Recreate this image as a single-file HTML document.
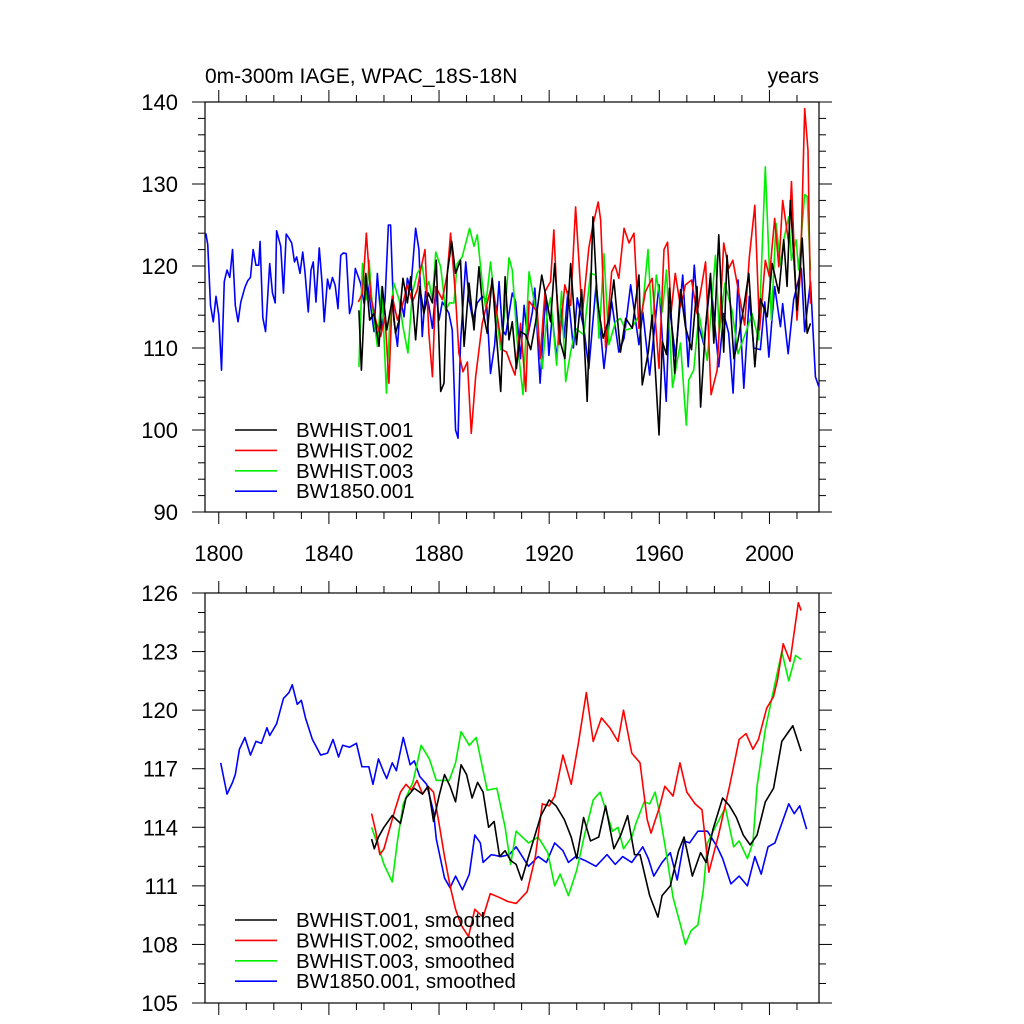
<!DOCTYPE html>
<html><head><meta charset="utf-8"><style>
html,body{margin:0;padding:0;background:#fff;}
svg{display:block;font-family:"Liberation Sans",Arial,sans-serif;}
</style></head><body>
<svg id="chart" width="1024" height="1024" viewBox="0 0 1024 1024"></svg>
<script>
// ---------- data ----------
const xTickYears = [1800,1840,1880,1920,1960,2000];
const topYTicks = [90,100,110,120,130,140];
const botYTicks = [105,108,111,114,117,120,123,126];
const titleLeft = "0m-300m IAGE, WPAC_18S-18N";
const titleRight = "years";
const topLegend = ["BWHIST.001","BWHIST.002","BWHIST.003","BW1850.001"];
const botLegend = ["BWHIST.001, smoothed","BWHIST.002, smoothed","BWHIST.003, smoothed","BW1850.001, smoothed"];
const colors = ["#000000","#ff0000","#00ee00","#0000ff"];

// raw series (top panel)
const blueYears = [1795.3,1796,1797,1798,1799,1800,1801,1802,1803,1804,1805,1806,1807,1808,1809.5,1810.5,1811.5,1812.5,1813.5,1814.5,1815,1816,1817,1818.5,1819.5,1820.5,1821,1822.5,1823.5,1824.5,1825.3,1826.5,1827.5,1828.3,1829.5,1830.5,1831.3,1832.5,1833.5,1834.3,1835.3,1836.5,1837.5,1838.3,1839.5,1840.3,1841.3,1842.3,1843.3,1844.3,1845.3,1846.3,1847.5,1848.5,1849.6,1851.5,1852.8,1854,1855.2,1856.4,1857.6,1859.2,1860.4,1861.6,1862.4,1863.6,1864.9,1866.1,1867.3,1868.5,1869.7,1871.5,1872.7,1873.9,1875.1,1876.3,1877.6,1878.8,1880,1881.2,1882.4,1883.6,1884.8,1886,1886.9,1887.8,1889.7,1890.9,1892.3,1893.9,1895.7,1897.2,1898.7,1900.2,1901.8,1903,1904.2,1906.6,1907.8,1909.6,1910.9,1912.1,1913.9,1914.8,1916.7,1918.7,1919.9,1921.1,1922.7,1924.2,1925.4,1926.8,1928.8,1930.2,1932.6,1934.4,1937.1,1939.9,1942.7,1945.3,1947.2,1949.6,1952.6,1954,1956.5,1959.9,1962.5,1963.7,1965.9,1968.5,1970.5,1972.7,1974.4,1976.2,1978.6,1981.6,1983.4,1985.2,1986.8,1988.6,1990.7,1992.7,1994.3,1996.7,1998.3,1999.8,2001.9,2004,2004.8,2006.8,2008.8,2011.6,2012.8,2014.9,2016.7,2017.9];
const blueVals = [124.0,122.6,115.2,113.2,116.3,114.0,107.3,118.1,119.5,118.6,122.0,115.2,113.2,115.6,117.4,118.2,118.6,122.0,120.1,120.1,123.0,113.7,112.0,120.3,116.7,115.5,124.3,122.4,116.7,123.9,123.5,122.8,120.5,121.1,119.1,121.7,119.3,114.4,119.5,120.5,115.6,122.2,118.0,113.2,118.4,117.2,118.6,117.6,114.8,121.3,121.6,121.5,114.2,115.4,119.7,117.9,115.4,117.9,115.0,112.0,119.1,112.2,115.9,125.0,125.0,113.4,110.2,115.9,113.8,118.5,117.1,124.6,122.0,111.4,116.9,115.2,112.4,117.1,113.4,115.6,115.0,114.2,112.2,100.0,99.0,110.6,120.5,115.9,113.4,115.5,116.3,115.9,106.9,110.4,118.1,112.2,111.6,116.7,115.7,108.7,115.2,111.2,114.4,117.3,105.7,116.5,109.1,114.0,108.7,114.8,111.2,116.9,110.0,116.1,112.4,107.5,117.9,107.5,115.7,109.5,111.2,117.7,110.4,114.4,106.7,117.7,103.5,115.0,108.9,118.9,107.7,120.1,112.6,110.4,118.3,107.7,114.2,111.8,104.5,118.3,105.1,116.3,110.0,109.8,115.6,108.9,117.5,112.6,115.4,109.3,115.9,119.7,112.0,118.1,106.5,105.3];

const redYears = [1850.7,1852.2,1853.6,1855.2,1857,1858.8,1860.4,1861.8,1863,1864.9,1866.7,1868.5,1870.3,1872.1,1873.3,1874.9,1876.3,1877.6,1878.8,1881.2,1883,1884.2,1886,1887.2,1888.7,1890.3,1891.7,1893.3,1895.7,1897.5,1899.3,1901.2,1903,1904.5,1906,1907.6,1909.6,1911.5,1912.7,1915.7,1916.7,1918.5,1920.5,1921.7,1923.6,1925.7,1927.8,1929.6,1932,1934.4,1935.9,1937.8,1938.7,1940.5,1942.7,1943.9,1945.3,1947.2,1949,1950.8,1952.6,1955,1957.4,1959.9,1961.7,1963,1964.3,1965.8,1967.7,1969.5,1971.7,1973.7,1976.8,1978.8,1981,1983.4,1985.2,1986.7,1988.9,1991,1992.7,1994.7,1996.4,1998.5,2000,2001.9,2003.4,2004.8,2007,2008,2010,2011.3,2012.8,2014,2014.9];
const redVals = [115.6,116.7,124.0,116.3,113.4,111.4,113.8,105.7,116.3,113.4,115.2,117.7,115.6,117.1,119.5,122.0,111.8,106.5,117.5,115.9,119.1,124.0,116.3,109.4,107.1,108.3,99.6,106.5,113.0,115.5,117.9,113.8,109.8,109.5,108.1,106.7,113.0,104.7,115.7,114.4,108.7,116.9,118.1,124.4,110.4,117.7,115.2,127.2,114.0,122.2,125.0,127.8,125.6,110.0,119.3,120.1,118.5,124.6,122.8,124.0,112.4,116.9,118.5,107.5,122.0,122.9,114.4,119.1,115.0,117.7,118.3,114.2,120.5,104.3,107.3,122.8,119.7,120.7,116.7,112.8,121.1,127.4,112.2,120.7,118.7,125.8,119.9,128.0,122.8,130.3,113.4,119.5,139.2,134.1,115.4];

const blackYears = [1850.9,1851.8,1853.4,1854.8,1856.4,1858.2,1859.4,1861,1863,1864.2,1865.5,1866.9,1868.5,1869.7,1871.5,1873,1874.5,1876.1,1877.6,1879,1880.6,1881.8,1883,1884.6,1886,1887.8,1889.1,1890.9,1892.7,1894.5,1896.1,1897.5,1899.3,1900.8,1902.4,1904,1905.4,1906.6,1908.1,1909.6,1911.5,1913.3,1915.1,1917.3,1918.7,1920.5,1922,1924,1925.7,1927.8,1929.9,1931.8,1933.8,1935.9,1937.5,1939.6,1941.7,1943.5,1945.9,1947.8,1950.2,1952.6,1953.8,1956,1957.4,1959.9,1961.1,1962.6,1963.7,1965.6,1967.7,1969.5,1971.7,1973.7,1975,1976.8,1978.6,1979.8,1981.6,1983.4,1984.6,1987.1,1988.6,1990.7,1992.5,1994.7,1996.7,1999.2,2001,2003.4,2005.2,2006.4,2007.6,2010,2011.9,2013.7,2014.9];
const blackVals = [114.6,107.3,119.1,113.4,114.2,110.2,117.5,112.2,115.9,111.8,113.4,118.5,115.5,118.7,111.0,117.5,114.2,116.7,115.5,120.7,104.7,105.7,119.1,123.0,119.1,120.7,110.2,117.9,112.2,119.9,114.2,111.8,118.5,111.8,104.7,118.7,111.0,113.2,107.5,112.0,111.6,109.8,113.2,118.9,116.5,113.2,120.3,110.8,108.7,120.3,110.4,117.1,103.5,126.0,115.7,111.2,113.6,118.3,109.5,113.6,112.4,118.9,105.5,109.5,114.0,99.4,110.8,109.2,117.3,106.9,117.1,112.6,109.8,117.5,102.8,112.6,119.1,110.6,123.8,109.5,121.3,108.7,111.0,115.0,119.1,107.7,116.0,113.8,120.3,116.7,123.2,117.5,128.0,114.6,123.4,111.8,113.0];

const greenYears = [1850.9,1852.2,1853.6,1854.6,1855.8,1857.6,1859.2,1860.9,1862.2,1863.6,1865.5,1866.9,1868.7,1870.3,1872.1,1873.9,1875.1,1876.3,1877.6,1878.8,1880.6,1882.4,1883.8,1885.4,1886.6,1888.4,1891.1,1892.7,1893.9,1895.7,1896.9,1898.7,1900.6,1902.4,1904.2,1905.4,1906.6,1908.4,1910.5,1912.7,1915.1,1917.5,1919.3,1920.5,1922.7,1924.5,1926,1927.8,1929.6,1932.6,1935,1936.9,1938.1,1939.9,1941.7,1944.1,1945.9,1947.8,1949.9,1952,1953.8,1955.9,1957.4,1958.9,1961.1,1962.6,1964.8,1967.7,1969.8,1970.7,1972.5,1974.4,1977.4,1980.4,1981.8,1983.8,1986.4,1988.6,1991.3,1993.7,1996.1,1998.5,2000.7,2002.4,2004,2005.2,2007,2008,2009.7,2010.6,2012.8,2013.7,2014.9];
const greenVals = [107.7,120.3,115.9,120.7,115.0,110.2,117.5,104.5,113.8,117.9,115.9,112.6,109.4,116.7,119.1,120.1,117.1,118.1,115.9,121.7,119.9,114.6,115.5,115.5,120.3,121.1,124.6,122.4,123.8,117.9,115.0,120.5,114.6,109.8,115.5,121.0,119.5,110.8,104.3,119.3,114.6,107.5,114.4,116.1,107.9,116.9,105.9,109.5,112.4,111.6,119.1,118.9,111.2,121.5,110.4,113.2,113.6,112.2,112.4,113.6,114.4,122.0,112.4,118.9,114.4,119.5,105.2,110.6,100.6,106.1,107.3,114.2,108.5,121.3,111.8,117.9,114.6,109.3,111.8,114.2,111.0,132.1,113.4,125.2,120.1,123.2,126.0,120.7,123.2,119.5,128.7,128.5,119.5];

// smoothed series (bottom panel)
const sBlueYears = [1800.7,1803,1805,1806,1807.5,1809.5,1811.5,1813.5,1815.5,1817.5,1818.5,1821,1823.5,1825.5,1826.7,1828.5,1830,1831.5,1834,1837,1839.5,1841.5,1843.5,1845,1847.5,1850,1852,1854.5,1856,1858,1860,1861,1863,1864.5,1867,1869.5,1871,1873,1875.5,1878,1879,1882,1884,1886,1888.5,1891,1893,1895,1896,1899,1902.5,1905.5,1908,1912.5,1916,1919,1922,1925,1927,1929.6,1933,1937,1941,1944,1946.7,1950,1954,1956,1958,1961,1964,1966.5,1969,1971,1974,1977.5,1981,1983,1986,1989,1992,1994.7,1997,1999.5,2002,2004,2007,2009,2011,2013.5];
const sBlueVals = [117.3,115.7,116.3,116.7,118.0,118.6,117.7,118.4,118.3,119.1,118.7,119.3,120.6,120.9,121.3,120.3,120.5,119.6,118.5,117.7,117.8,118.5,117.6,118.2,118.1,118.3,117.1,117.1,116.2,117.5,116.8,116.5,117.3,116.9,118.6,117.2,117.4,116.6,116.2,114.8,113.4,111.4,110.9,111.5,110.8,111.6,113.6,113.2,112.2,112.6,112.5,112.6,113.0,112.0,112.5,112.2,113.2,112.8,112.2,112.5,112.3,112.0,112.6,112.1,112.5,112.2,113.0,112.4,111.5,112.2,112.7,111.3,113.3,113.2,113.8,113.8,113.0,112.4,111.1,111.5,111.0,112.5,111.6,113.0,113.2,114.0,115.2,114.7,115.1,113.9];

const sRedYears = [1855.5,1857,1858.5,1860,1862,1864,1866,1868,1870,1872,1874,1876,1878,1880,1882,1884,1886,1888,1890.7,1893,1896,1898.6,1902,1905,1908,1910,1912,1915,1917.5,1920,1922,1925,1928,1930.6,1933.5,1936,1939,1942,1945,1947,1950,1953,1955.6,1957,1960,1962,1965,1967.5,1970,1973,1975.5,1978,1981.5,1985.5,1989,1991.5,1994,1996,1999,2001.5,2003,2005,2007.5,2010.5,2011.5];
const sRedVals = [114.7,113.8,112.6,112.9,113.9,114.9,115.8,116.2,115.9,116.4,115.7,116.1,115.8,114.2,112.5,111.0,109.8,109.0,108.4,109.8,109.4,110.6,110.4,110.2,110.1,110.4,110.7,112.5,115.2,115.1,115.6,117.7,116.2,118.3,120.9,118.4,119.6,119.1,118.4,120.0,117.8,117.3,114.4,113.7,115.0,116.1,115.6,117.3,115.8,115.2,114.9,111.7,113.6,116.1,118.5,118.8,118.0,118.5,120.1,120.7,121.6,123.4,122.5,125.5,125.1];

const sBlackYears = [1855.5,1856.5,1858,1860,1863,1866,1868,1871,1874,1876,1878,1880,1882,1884,1886,1888,1890,1892,1894,1896,1898,1900,1902,1904,1906,1908,1910,1914,1917,1920,1922.5,1925.5,1928,1930,1932.5,1935,1938,1940.5,1943.5,1946,1948.5,1951,1953,1956.5,1959.5,1961,1964,1967,1969,1972,1975,1977,1979.5,1983,1985.5,1988,1990.5,1993,1995.5,1998.5,2001.5,2004.5,2008.5,2011.5];
const sBlackVals = [113.4,112.9,113.5,114.0,114.6,114.2,115.5,116.0,115.7,116.1,114.3,115.6,116.7,116.1,115.3,117.2,116.7,115.5,116.3,115.8,114.0,114.3,112.5,112.8,112.3,112.1,111.3,113.2,114.6,115.4,115.1,114.4,113.5,112.4,114.5,113.3,113.5,115.1,112.9,113.6,114.6,112.6,112.6,110.5,109.4,110.5,111.0,112.8,113.5,111.5,112.7,112.2,113.9,115.5,115.1,114.5,113.6,113.1,113.6,115.3,116.0,118.4,119.2,117.9];

const sGreenYears = [1855.5,1858,1860,1863,1865,1867,1870.5,1873.5,1876.5,1879,1883.7,1886,1888,1891,1893.5,1897.5,1901,1904,1906,1908,1912.5,1916,1919.5,1922,1924,1927,1930,1933,1936,1938.5,1941,1943,1945,1947,1950,1951.5,1954.5,1956.5,1958.5,1960,1962.5,1965,1967.5,1969.5,1971.5,1974,1976,1977.5,1981,1984,1987,1989,1992,1994,1995.5,1998.5,2001,2004.5,2007,2009.5,2011.5];
const sGreenVals = [114.0,113.0,112.1,111.2,113.4,115.2,116.3,118.2,117.5,116.4,116.4,117.3,118.9,118.2,118.6,115.9,116.0,114.0,112.1,113.8,113.2,113.5,112.7,111.0,111.6,110.5,111.8,113.7,115.4,115.8,114.7,113.8,114.0,112.9,113.5,114.2,115.3,115.2,115.8,114.8,112.7,110.4,109.1,108.0,108.7,109.0,110.8,113.2,114.2,115.0,113.0,113.3,112.4,113.2,116.1,119.0,120.7,123.0,121.5,122.8,122.6];

// ---------- drawing ----------
const NS = "http://www.w3.org/2000/svg";
const svg = document.getElementById('chart');
const X0 = 205, X1 = 819, YR0 = 1795, YR1 = 2018;
function xScale(yr){ return X0 + (yr - YR0) * (X1 - X0) / (YR1 - YR0); }
const topP = {top:102, bottom:512, min:90, max:140};
const botP = {top:593, bottom:1003, min:105, max:126};
function yScale(p, v){ return p.bottom - (v - p.min) * (p.bottom - p.top) / (p.max - p.min); }
function mk(tag, attrs){ const e = document.createElementNS(NS, tag); for (const k in attrs) e.setAttribute(k, attrs[k]); svg.appendChild(e); return e; }

function drawPanel(p, yTicks, yMinorStep, panelName, showXLabels){
  const fr = mk('rect', {x:X0, y:p.top, width:X1-X0, height:p.bottom-p.top, fill:'none', stroke:'#000', 'stroke-width':1.2});
  
  
  for (let v = p.min; v <= p.max + 1e-9; v += yMinorStep){
    const y = yScale(p, v);
    const major = yTicks.some(t => Math.abs(t - v) < 1e-6);
    const len = major ? 13 : 7;
    const tl = mk('line', {x1:X0-len, x2:X0, y1:y, y2:y, stroke:'#000', 'stroke-width':1});
    
    
    const tr = mk('line', {x1:X1, x2:X1+len, y1:y, y2:y, stroke:'#000', 'stroke-width':1});
    
    
  }
  yTicks.forEach(v => {
    const t = mk('text', {x:178, y:yScale(p, v)+8, 'text-anchor':'end', 'font-size':22, fill:'#000'});
    t.textContent = v;
    
    
  });
  for (let yr = 1800; yr <= YR1; yr += 10){
    const x = xScale(yr);
    const major = xTickYears.includes(yr);
    const len = major ? 12 : 7;
    const tb = mk('line', {x1:x, x2:x, y1:p.bottom, y2:p.bottom+len, stroke:'#000', 'stroke-width':1});
    
    
    const tt = mk('line', {x1:x, x2:x, y1:p.top-len, y2:p.top, stroke:'#000', 'stroke-width':1});
    
    
  }
  if (showXLabels){
    xTickYears.forEach(yr => {
      const t = mk('text', {x:xScale(yr), y:p.bottom+49, 'text-anchor':'middle', 'font-size':22, fill:'#000'});
      t.textContent = yr;
      
      
    });
  }
}

function drawLine(p, years, vals, color, name){
  let d = '';
  years.forEach((yr, i) => { d += (i ? 'L' : 'M') + xScale(yr).toFixed(2) + ',' + yScale(p, vals[i]).toFixed(2); });
  const path = mk('path', {d:d, fill:'none', stroke:color, 'stroke-width':1.6, 'stroke-linejoin':'round'});
  
  
}

function drawLegend(labels, y0, panelName){
  labels.forEach((lab, i) => {
    const y = y0 + i * 20.4;
    const l = mk('line', {x1:235, x2:277, y1:y, y2:y, stroke:colors[i], 'stroke-width':1.6});
    
    
    const t = mk('text', {x:296, y:y+7, 'font-size':20.5, fill:'#000'});
    t.textContent = lab;
    
    
  });
}

drawPanel(topP, topYTicks, 2, 'top-panel', true);
drawPanel(botP, botYTicks, 1, 'bottom-panel', false);

drawLine(topP, blueYears, blueVals, colors[3], 'bw1850-001-line');
drawLine(topP, greenYears, greenVals, colors[2], 'bwhist-003-line');
drawLine(topP, redYears, redVals, colors[1], 'bwhist-002-line');
drawLine(topP, blackYears, blackVals, colors[0], 'bwhist-001-line');

drawLine(botP, sBlueYears, sBlueVals, colors[3], 'bw1850-001-smoothed-line');
drawLine(botP, sGreenYears, sGreenVals, colors[2], 'bwhist-003-smoothed-line');
drawLine(botP, sRedYears, sRedVals, colors[1], 'bwhist-002-smoothed-line');
drawLine(botP, sBlackYears, sBlackVals, colors[0], 'bwhist-001-smoothed-line');

drawLegend(topLegend, 430, 'top');
drawLegend(botLegend, 920, 'bottom');

const tl = mk('text', {x:205, y:83, 'font-size':21, fill:'#000'});
tl.textContent = titleLeft;


const tr = mk('text', {x:819, y:83, 'font-size':21, 'text-anchor':'end', fill:'#000'});
tr.textContent = titleRight;


</script>
</body></html>
